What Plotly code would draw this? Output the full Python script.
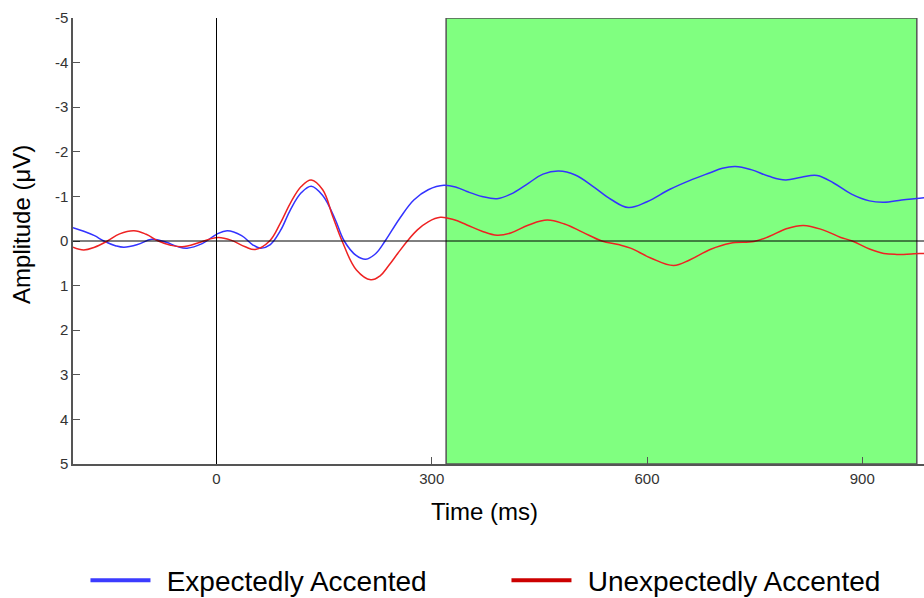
import plotly.graph_objects as go

# ---- data ----
t_blue = [-200, -185, -170, -157, -140, -129, -110, -90, -70, -55, -41, -20, 0, 15, 35, 50, 61, 75,
          89, 103, 118, 132, 148, 165, 178, 195, 208, 222, 235, 255, 275, 295, 317, 335, 349, 370,
          391, 410, 435, 455, 477, 500, 525, 550, 574, 600, 632, 660, 688, 705, 723, 745, 770, 793,
          815, 837, 860, 885, 910, 930, 955, 980, 990]
v_blue = [-0.30, -0.22, -0.12, 0.00, 0.11, 0.14, 0.08, -0.04, 0.03, 0.12, 0.16, 0.06, -0.15, -0.23,
          -0.12, 0.08, 0.16, 0.08, -0.23, -0.70, -1.08, -1.23, -1.02, -0.50, 0.00, 0.33, 0.41, 0.28,
          0.00, -0.50, -0.92, -1.15, -1.25, -1.20, -1.11, -1.00, -0.95, -1.05, -1.30, -1.50, -1.57,
          -1.48, -1.22, -0.93, -0.75, -0.88, -1.16, -1.36, -1.53, -1.63, -1.67, -1.60, -1.45, -1.37,
          -1.43, -1.47, -1.30, -1.05, -0.90, -0.87, -0.92, -0.96, -0.98]

t_red = [-200, -185, -170, -152, -135, -115, -98, -81, -65, -48, -25, -10, 3, 20, 40, 54, 74, 89,
         103, 118, 132, 148, 162, 175, 195, 215, 228, 240, 253, 266, 280, 295, 312, 330, 349, 370,
         391, 410, 435, 461, 485, 510, 537, 560, 577, 605, 637, 660, 688, 716, 749, 770, 795, 818,
         845, 870, 886, 910, 930, 948, 980, 990]
v_red = [0.14, 0.20, 0.14, 0.00, -0.16, -0.23, -0.15, 0.00, 0.09, 0.13, 0.04, -0.04, -0.08, -0.02,
         0.13, 0.19, 0.00, -0.40, -0.85, -1.22, -1.37, -1.15, -0.55, 0.00, 0.65, 0.87, 0.78, 0.55,
         0.27, 0.00, -0.25, -0.43, -0.53, -0.48, -0.36, -0.22, -0.13, -0.18, -0.36, -0.47, -0.38,
         -0.20, 0.00, 0.08, 0.16, 0.38, 0.55, 0.42, 0.19, 0.05, 0.01, -0.10, -0.28, -0.35, -0.25,
         -0.08, 0.00, 0.18, 0.28, 0.30, 0.28, 0.28]

window = [320, 976]          # highlighted analysis window (ms)
x_range = [-200, 986]
y_range = [5, -5]            # negative up
x_ticks = [0, 300, 600, 900]
x_ticktext = ["0", "300", "600", "900"]
y_ticks = [-5, -4, -3, -2, -1, 0, 1, 2, 3, 4, 5]
y_ticktext = ["-5", "-4", "-3", "-2", "-1", "0", "1", "2", "3", "4", "5"]
names = ["Expectedly Accented", "Unexpectedly Accented"]

FONT = "Liberation Sans, Arial, sans-serif"

fig = go.Figure()

fig.add_shape(type="rect", xref="x", yref="y", x0=window[0], x1=window[1], y0=-5, y1=5,
              fillcolor="#80ff80", line=dict(color="#555555", width=1.5), layer="below")
fig.add_shape(type="line", xref="x", yref="y", x0=0, x1=0, y0=-5, y1=5,
              line=dict(color="black", width=1))
fig.add_shape(type="line", xref="x", yref="y", x0=x_range[0], x1=x_range[1], y0=0, y1=0,
              line=dict(color="black", width=1))

fig.add_trace(go.Scatter(x=t_blue, y=v_blue, mode="lines", showlegend=False,
                         line=dict(color="#3333ff", width=1.5, shape="spline", smoothing=1.1)))
fig.add_trace(go.Scatter(x=t_red, y=v_red, mode="lines", showlegend=False,
                         line=dict(color="#ee2222", width=1.5, shape="spline", smoothing=1.1)))
# legend entries
fig.add_trace(go.Scatter(x=[None], y=[None], mode="lines", name="\u2009\u2009" + names[0],
                         line=dict(color="#3b3bff", width=4)))
fig.add_trace(go.Scatter(x=[None], y=[None], mode="lines", name="\u2009\u2009" + names[1],
                         line=dict(color="#cc0000", width=4)))

fig.update_layout(
    width=924, height=598,
    margin=dict(l=73, r=0, t=18, b=134, autoexpand=False),
    paper_bgcolor="white", plot_bgcolor="white",
    font=dict(family=FONT, color="black"),
    showlegend=True,
    legend=dict(orientation="h", xref="container", yref="container",
                x=0.0925, xanchor="left", y=0.071, yanchor="top",
                font=dict(size=28, color="black", family=FONT),
                itemwidth=60, entrywidth=346, bgcolor="rgba(0,0,0,0)"),
    xaxis=dict(range=x_range, tickvals=x_ticks, ticktext=x_ticktext, ticks="inside", ticklen=7,
               tickcolor="#555", showline=True, linecolor="#555", linewidth=1.5, showgrid=False,
               zeroline=False, tickfont=dict(size=15, color="#333", family=FONT)),
    yaxis=dict(range=y_range, tickvals=y_ticks, ticktext=y_ticktext, ticks="inside", ticklen=7,
               tickcolor="#555", showline=True, linecolor="#555", linewidth=1.5, showgrid=False,
               zeroline=False, tickfont=dict(size=15, color="#333", family=FONT)),
    annotations=[
        dict(text="Time (ms)", xref="paper", yref="paper", x=0.484, y=0,
             xanchor="center", yanchor="top", yshift=-32, showarrow=False,
             font=dict(size=24, color="black", family=FONT)),
        dict(text="Amplitude (μV)", xref="paper", yref="paper", x=-0.0599, y=0.536,
             xanchor="center", yanchor="middle", textangle=-90, showarrow=False,
             font=dict(size=24, color="black", family=FONT)),
    ],
)

fig.write_html("out.html")
